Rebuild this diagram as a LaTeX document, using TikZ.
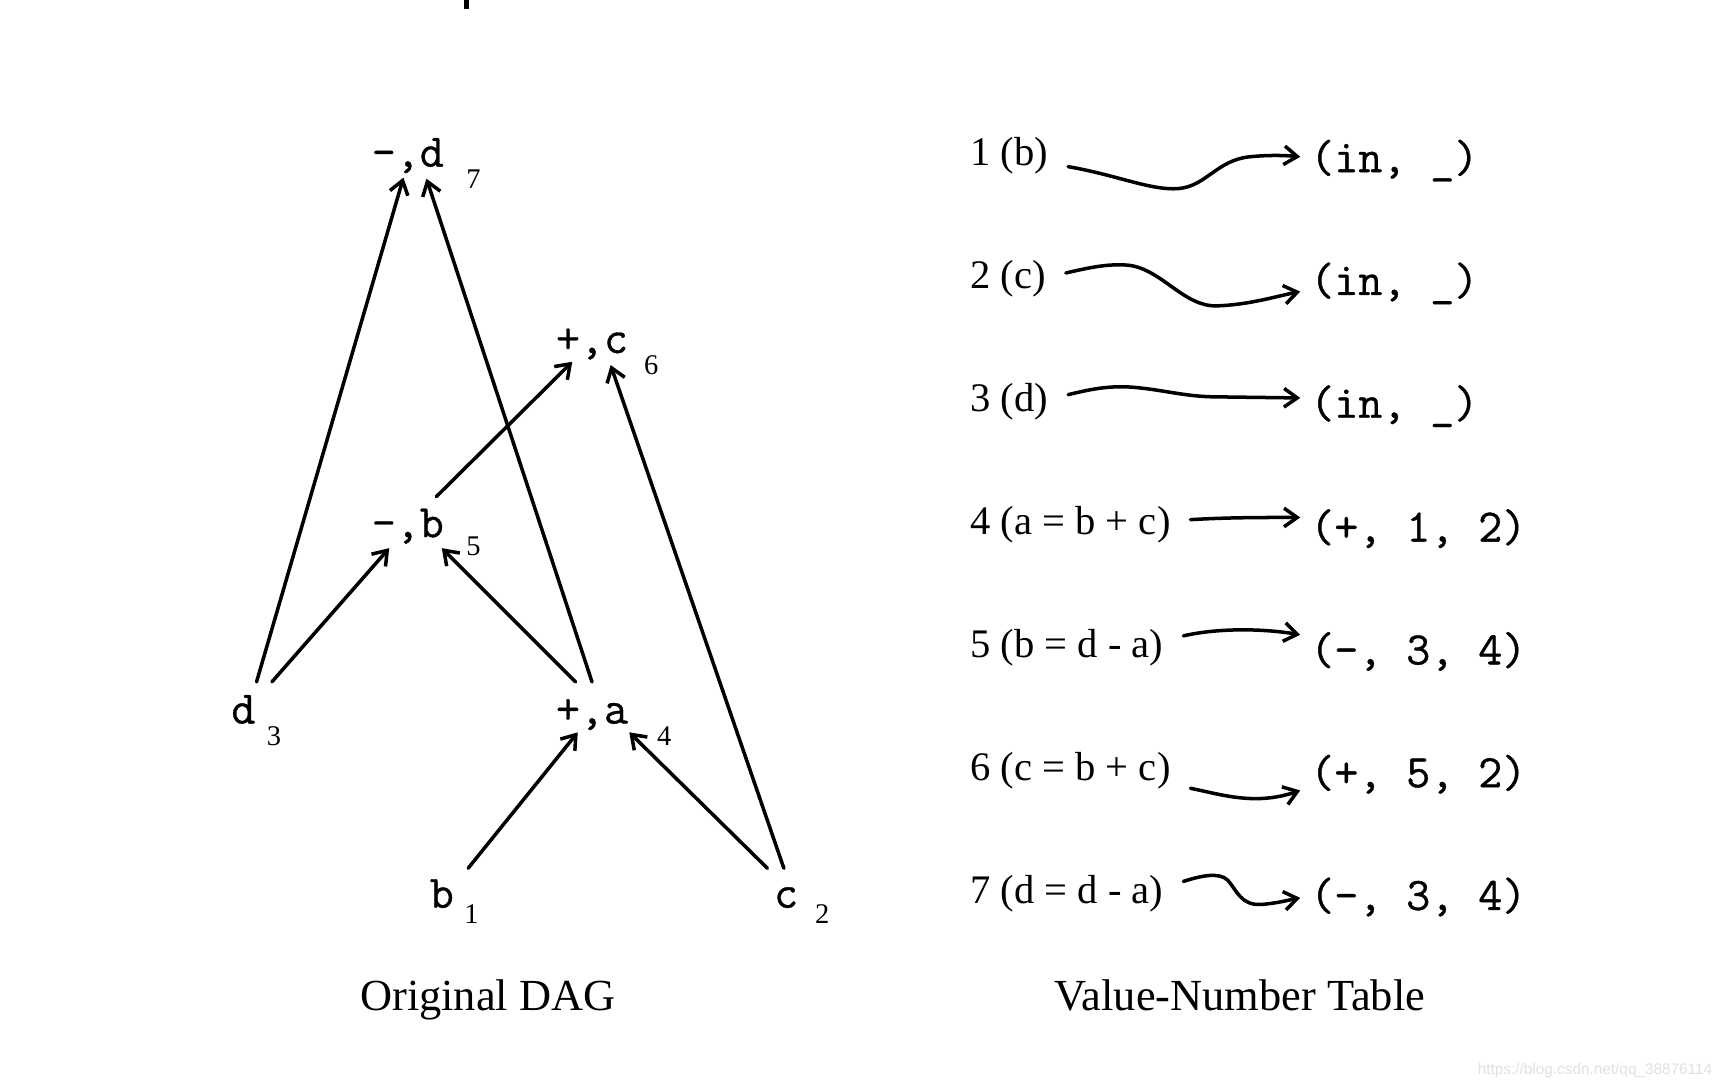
\documentclass[tikz,border=0pt]{standalone}
\usepackage{fontspec}
\setmainfont{Liberation Serif}
\newfontfamily\codefont{Latin Modern Mono}[FakeBold=0.8]
\newfontfamily\wmfont{Liberation Sans}
\usetikzlibrary{arrows.meta}
\begin{document}
\begin{tikzpicture}[x=1pt,y=-1pt,
  dag/.style={font=\codefont\fontsize{42.5}{45}\selectfont, inner sep=0pt, anchor=base},
  num/.style={font=\fontsize{26}{28}\selectfont, inner sep=0pt, anchor=base},
  lab/.style={font=\fontsize{37}{40}\selectfont, inner sep=0pt, anchor=base west},
  tup/.style={font=\codefont\fontsize{42.5}{45}\selectfont, inner sep=0pt, anchor=base west},
  captext/.style={font=\fontsize{40.5}{44}\selectfont, inner sep=0pt, anchor=base},
  arr/.style={line width=3.2pt, line cap=round, -{Straight Barb[length=12pt,width=17pt]}}]
\useasboundingbox (0,0) rectangle (1568,992);
% cut-off glyph at top
\fill (423,0) rectangle (428,8);
% DAG nodes
\node[dag] (n7) at (372,152) {-,d};
\node[num] (s7) at (432,172) {7};
\node[dag] (n6) at (540,322) {+,c};
\node[num] (s6) at (594,342) {6};
\node[dag] (n5) at (372,490) {-,b};
\node[num] (s5) at (432,507) {5};
\node[dag] (n3) at (222,660) {d};
\node[num] (s3) at (250,680) {3};
\node[dag] (n4) at (540,660) {+,a};
\node[num] (s4) at (606,680) {4};
\node[dag] (n1) at (403,828) {b};
\node[num] (s1) at (430,842) {1};
\node[dag] (n2) at (717,828) {c};
\node[num] (s2) at (750,842) {2};
% DAG edges
\draw[arr] ([shift={(12,-38)}]n3.base) -- ([shift={(-4,10)}]n7.base);
\draw[arr] ([shift={(26,-38)}]n3.base) -- ([shift={(-17,10)}]n5.base);
\draw[arr] ([shift={(0,-38)}]n4.base) -- ([shift={(17,11)}]n7.base);
\draw[arr] ([shift={(-15,-38)}]n4.base) -- ([shift={(31,10)}]n5.base);
\draw[arr] ([shift={(26,-37)}]n5.base) -- ([shift={(-18,8)}]n6.base);
\draw[arr] ([shift={(-2,-36)}]n2.base) -- ([shift={(17,11)}]n6.base);
\draw[arr] ([shift={(24,-36)}]n1.base) -- ([shift={(-13,8)}]n4.base);
\draw[arr] ([shift={(-17,-36)}]n2.base) -- ([shift={(34,8)}]n4.base);
% table
\node[lab] (l1) at (885,151) {1 (b)};
\node[lab] (l2) at (885,263) {2 (c)};
\node[lab] (l3) at (885,375) {3 (d)};
\node[lab] (l4) at (885,488) {4 (a = b + c)};
\node[lab] (l5) at (885,600) {5 (b = d - a)};
\node[lab] (l6) at (885,712) {6 (c = b + c)};
\node[lab] (l7) at (885,824) {7 (d = d - a)};
\node[tup] (t1) at (1195,157) {(in, \_)};
\node[tup] (t2) at (1195,269) {(in, \_)};
\node[tup] (t3) at (1195,381) {(in, \_)};
\node[tup] (t4) at (1195,494) {(+, 1, 2)};
\node[tup] (t5) at (1195,606) {(-, 3, 4)};
\node[tup] (t6) at (1195,718) {(+, 5, 2)};
\node[tup] (t7) at (1195,830) {(-, 3, 4)};
\draw[arr] ([shift={(18,1)}]l1.base east) .. controls (1020,160) and (1050,174) .. (1075,172)
  .. controls (1100,170) and (1110,146) .. (1140,143)
  .. controls (1160,141) and (1175,142) .. ([shift={(-9,-14)}]t1.base west);
\draw[arr] ([shift={(18,-14)}]l2.base east) .. controls (990,245) and (1010,240) .. (1030,242)
  .. controls (1060,246) and (1080,280) .. (1110,279)
  .. controls (1140,278) and (1165,270) .. ([shift={(-9,-3)}]t2.base west);
\draw[arr] ([shift={(18,-15)}]l3.base east) .. controls (995,355) and (1010,352) .. (1030,353)
  .. controls (1060,355) and (1080,362) .. (1110,362)
  -- ([shift={(-9,-18)}]t3.base west);
\draw[arr] ([shift={(18,-14)}]l4.base east) .. controls (1120,472) and (1150,472) .. ([shift={(-9,-22)}]t4.base west);
\draw[arr] ([shift={(18,-20)}]l5.base east) .. controls (1110,573) and (1150,573) .. ([shift={(-9,-27)}]t5.base west);
\draw[arr] ([shift={(18,7)}]l6.base east) .. controls (1115,725) and (1145,735) .. ([shift={(-9,3)}]t6.base west);
\draw[arr] ([shift={(18,-20)}]l7.base east) .. controls (1095,799) and (1112,795) .. (1120,803)
  .. controls (1128,812) and (1132,826) .. (1150,825)
  .. controls (1165,824) and (1175,821) .. ([shift={(-9,-11)}]t7.base west);
% captions
\node[captext] (c1) at (445,922) {Original DAG};
\node[captext] (c2) at (1131,922) {Value-Number Table};
\node[font=\wmfont\fontsize{14}{16}\selectfont, text=black!12, inner sep=0pt, anchor=base east] (wm) at (1562,980) {https://blog.csdn.net/qq\_38876114};
\end{tikzpicture}
\end{document}
